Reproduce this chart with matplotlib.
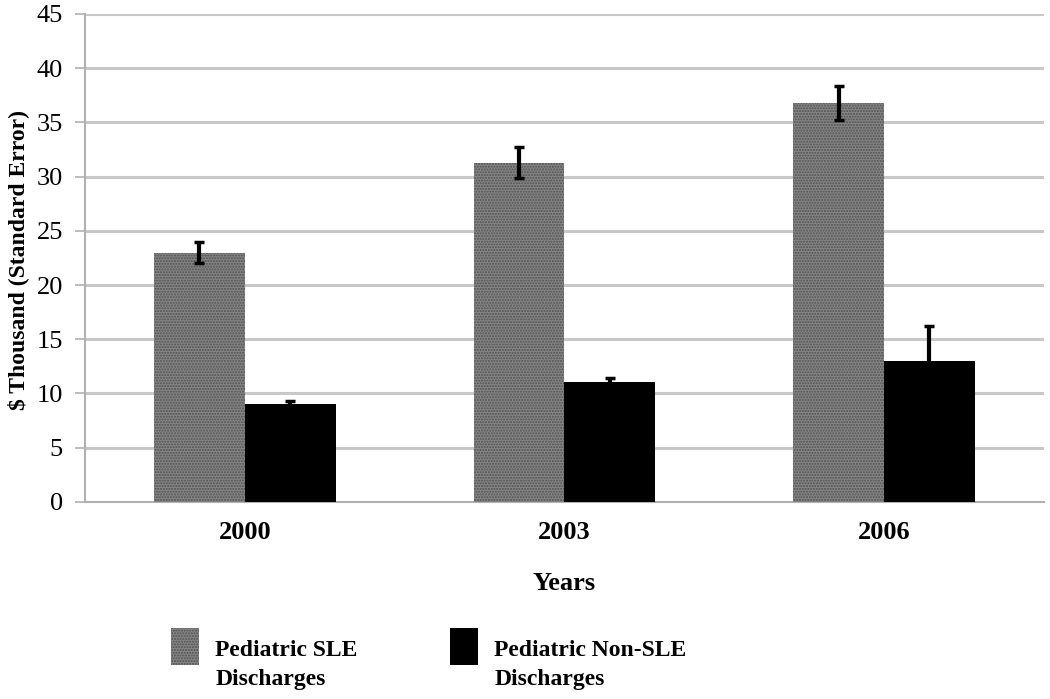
import matplotlib

matplotlib.use("Agg")
import matplotlib.pyplot as plt
import numpy as np
from matplotlib.patches import Rectangle

plt.rcParams["font.family"] = ["Liberation Serif", "DejaVu Serif"]
plt.rcParams["hatch.linewidth"] = 1.0

# data
years = ["2000", "2003", "2006"]
sle_cost = [23.0, 31.3, 36.8]
sle_err = [1.0, 1.45, 1.55]
non_sle_cost = [9.0, 11.1, 13.0]
non_sle_err = [0.3, 0.35, 3.2]
series_labels = ["Pediatric SLE\nDischarges", "Pediatric Non-SLE\nDischarges"]

SLE_STYLE = dict(facecolor="#868686", edgecolor="#505050", hatch="......", linewidth=0)
NON_SLE_STYLE = dict(facecolor="black", linewidth=0)

fig = plt.figure(figsize=(10.5, 6.99), dpi=100)
ax = fig.add_axes([0.081, 0.282, 0.913, 0.698])

x = np.arange(len(years))
width = 0.284
err_style = dict(ecolor="black", elinewidth=3, capsize=3.5, capthick=2.5)

ax.bar(x - width / 2, sle_cost, width, yerr=sle_err, error_kw=err_style, zorder=3,
       **SLE_STYLE)
ax.bar(x + width / 2, non_sle_cost, width, yerr=non_sle_err, error_kw=err_style,
       zorder=3, **NON_SLE_STYLE)

ax.set_xlim(-0.5, 2.5)
ax.set_ylim(0, 45)
ax.set_yticks(range(0, 46, 5))
ax.set_xticks(x)
ax.set_xticklabels(years, fontweight="bold", fontsize=19)
ax.tick_params(axis="x", length=0, pad=14)
ax.tick_params(axis="y", labelsize=19, length=7, width=1.2, color="#b0b0b0", pad=9)
ax.yaxis.grid(True, color="#c8c8c8", linewidth=2.2, zorder=0)
ax.set_axisbelow(True)

for side in ("top", "right"):
    ax.spines[side].set_visible(False)
for side in ("left", "bottom"):
    ax.spines[side].set_color("#b0b0b0")
    ax.spines[side].set_linewidth(1.5)

ax.set_ylabel("\\$ Thousand (Standard Error)", fontweight="bold", fontsize=17)
ax.yaxis.set_label_coords(-0.058, 0.495)
ax.set_xlabel("Years", fontweight="bold", fontsize=19, labelpad=20)

# legend drawn by hand: the box sits higher than the two-line label
legend_x = [0.163, 0.4286]
for lx, label, style in zip(legend_x, series_labels, [SLE_STYLE, NON_SLE_STYLE]):
    fig.patches.append(Rectangle((lx, 0.0486), 0.0267, 0.0529,
                                 transform=fig.transFigure, figure=fig, **style))
    fig.text(lx + 0.042, 0.0486, label, fontweight="bold", fontsize=17,
             ha="left", va="center", linespacing=1.55)

fig.savefig("out.png", dpi=100)
